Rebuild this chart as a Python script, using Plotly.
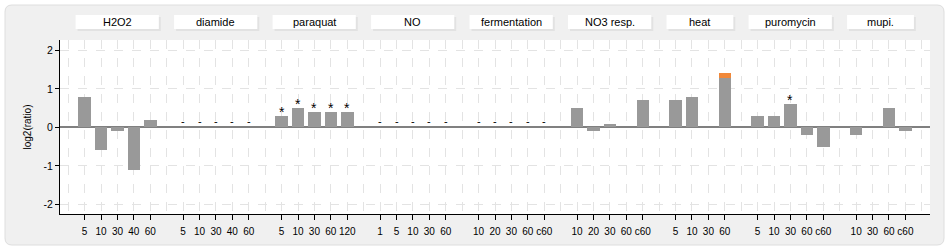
import plotly.graph_objects as go

# ---------------- data ----------------
groups = ["H2O2", "diamide", "paraquat", "NO", "fermentation", "NO3 resp.", "heat", "puromycin", "mupi."]

h2o2_t = ["5", "10", "30", "40", "60"]
h2o2_v = [0.8, -0.6, -0.1, -1.1, 0.2]
h2o2_sig = [False, False, False, False, False]

diamide_t = ["5", "10", "30", "40", "60"]
diamide_v = [None, None, None, None, None]
diamide_sig = [False, False, False, False, False]

paraquat_t = ["5", "10", "30", "60", "120"]
paraquat_v = [0.3, 0.5, 0.4, 0.4, 0.4]
paraquat_sig = [True, True, True, True, True]

no_t = ["1", "5", "10", "30", "60"]
no_v = [None, None, None, None, None]
no_sig = [False, False, False, False, False]

ferm_t = ["10", "20", "30", "60", "c60"]
ferm_v = [None, None, None, None, None]
ferm_sig = [False, False, False, False, False]

no3_t = ["10", "20", "30", "60", "c60"]
no3_v = [0.5, -0.1, 0.1, 0.0, 0.7]
no3_sig = [False, False, False, False, False]

heat_t = ["5", "10", "30", "60"]
heat_v = [0.7, 0.8, 0.0, 1.28]
heat_extra = [0.0, 0.0, 0.0, 0.14]
heat_sig = [False, False, False, False]

puro_t = ["5", "10", "30", "60", "c60"]
puro_v = [0.3, 0.3, 0.6, -0.2, -0.5]
puro_sig = [False, False, True, False, False]

mupi_t = ["10", "30", "60", "c60"]
mupi_v = [-0.2, 0.0, 0.5, -0.1]
mupi_sig = [False, False, False, False]

group_times = [h2o2_t, diamide_t, paraquat_t, no_t, ferm_t, no3_t, heat_t, puro_t, mupi_t]
group_vals = [h2o2_v, diamide_v, paraquat_v, no_v, ferm_v, no3_v, heat_v, puro_v, mupi_v]
group_sig = [h2o2_sig, diamide_sig, paraquat_sig, no_sig, ferm_sig, no3_sig, heat_sig, puro_sig, mupi_sig]
extra_vals = {"heat": heat_extra}

# ---------------- build category slots (one empty slot between groups) ----------------
xs, ys, labels = [], [], []
sig_x, sig_y = [], []
dash_x = []
ex_x, ex_y = [], []
group_span = []
slot = 1
for g, ts, vs, ss in zip(groups, group_times, group_vals, group_sig):
    first = slot
    for i, (t, v, s) in enumerate(zip(ts, vs, ss)):
        labels.append((slot, t))
        if v is None:
            dash_x.append(slot)
        else:
            xs.append(slot)
            ys.append(v)
            top = v
            if g in extra_vals and extra_vals[g][i] > 0:
                ex_x.append(slot)
                ex_y.append(extra_vals[g][i])
                top = v + extra_vals[g][i]
            if s:
                sig_x.append(slot)
                sig_y.append(max(top, 0))
        slot += 1
    group_span.append((g, first, slot - 1))
    slot += 1
n_slots = slot

FONT = "Liberation Sans"

fig = go.Figure()
fig.add_trace(go.Bar(x=xs, y=ys, width=0.76, marker=dict(color="#999999", line=dict(width=0)),
                     showlegend=False, hoverinfo="x+y"))
fig.add_trace(go.Bar(x=ex_x, y=ex_y, width=0.76, marker=dict(color="#f0883a", line=dict(width=0)),
                     showlegend=False))

# ---------------- layout geometry ----------------
W, H = 950, 250
L, R, T, B = 60, 20, 40, 36
pw, ph = W - L - R, H - T - B


def px(x):
    return (x - L) / pw


def py(y):
    return (H - B - y) / ph


shapes = []
x0, x1, y0, y1, r = 5, 944, 5, 245, 7
path = (f"M {px(x0 + r)},{py(y0)} L {px(x1 - r)},{py(y0)} Q {px(x1)},{py(y0)} {px(x1)},{py(y0 + r)} "
        f"L {px(x1)},{py(y1 - r)} Q {px(x1)},{py(y1)} {px(x1 - r)},{py(y1)} "
        f"L {px(x0 + r)},{py(y1)} Q {px(x0)},{py(y1)} {px(x0)},{py(y1 - r)} "
        f"L {px(x0)},{py(y0 + r)} Q {px(x0)},{py(y0)} {px(x0 + r)},{py(y0)} Z")
shapes.append(dict(type="path", xref="paper", yref="paper", path=path, fillcolor="#f0f0f0",
                   line=dict(color="#dedede", width=1), layer="below"))
shapes.append(dict(type="rect", xref="paper", yref="paper", x0=0, x1=1, y0=0, y1=1,
                   fillcolor="white", line=dict(width=0), layer="below"))

annotations = []
for g, a, b in group_span:
    bx0, bx1 = a - 0.55, b + 0.52
    shapes.append(dict(type="rect", xref="x", yref="paper", x0=bx0 + 0.12, x1=bx1 + 0.12,
                       y0=py(31), y1=py(17), fillcolor="#e2e2e2", line=dict(width=0), layer="below"))
    shapes.append(dict(type="rect", xref="x", yref="paper", x0=bx0, x1=bx1,
                       y0=py(29), y1=py(15), fillcolor="white", line=dict(width=0), layer="below"))
    annotations.append(dict(x=(bx0 + bx1) / 2, y=py(22), xref="x", yref="paper", text=g,
                            showarrow=False, font=dict(family=FONT, size=11, color="black"),
                            xanchor="center", yanchor="middle"))

for sx, sy in zip(sig_x, sig_y):
    annotations.append(dict(x=sx, y=sy, xref="x", yref="y", text="*", showarrow=False,
                            font=dict(family=FONT, size=14, color="black"),
                            xanchor="center", yanchor="bottom", yshift=-6))
for dx in dash_x:
    annotations.append(dict(x=dx, y=0, xref="x", yref="y", text="-", showarrow=False,
                            font=dict(family=FONT, size=11, color="black"),
                            xanchor="center", yanchor="bottom", yshift=-2))

fig.update_layout(
    width=W, height=H,
    margin=dict(l=L, r=R, t=T, b=B, autoexpand=False),
    paper_bgcolor="white", plot_bgcolor="white",
    barmode="relative", bargap=0,
    font=dict(family=FONT, size=10, color="black"),
    shapes=shapes, annotations=annotations,
    xaxis=dict(range=[-0.5, n_slots - 0.5], tickmode="array", automargin=False, tickangle=0,
               tickvals=[s for s, _ in labels], ticktext=[t for _, t in labels],
               showgrid=False, zeroline=False, showline=True, linecolor="black", linewidth=1,
               ticks="outside", ticklen=5, tickcolor="black", ticklabelstandoff=3,
               tickfont=dict(family=FONT, size=10),
               minor=dict(tickmode="linear", tick0=0, dtick=1, showgrid=True, griddash="dash",
                          gridcolor="#e3e3e3", gridwidth=1, ticks="")),
    yaxis=dict(range=[-2.25, 2.27], tickvals=[-2, -1, 0, 1, 2], ticktext=["-2", "-1", "0", "1", "2"],
               automargin=False,
               showgrid=True, griddash="dash", gridcolor="#e3e3e3", gridwidth=1,
               zeroline=True, zerolinecolor="#808080", zerolinewidth=2,
               showline=True, linecolor="black", linewidth=1,
               ticks="outside", ticklen=4, tickcolor="black",
               tickfont=dict(family=FONT, size=10.5),
               title=dict(text="log2(ratio)", font=dict(family=FONT, size=10), standoff=10)),
)

fig.write_html("out.html")
